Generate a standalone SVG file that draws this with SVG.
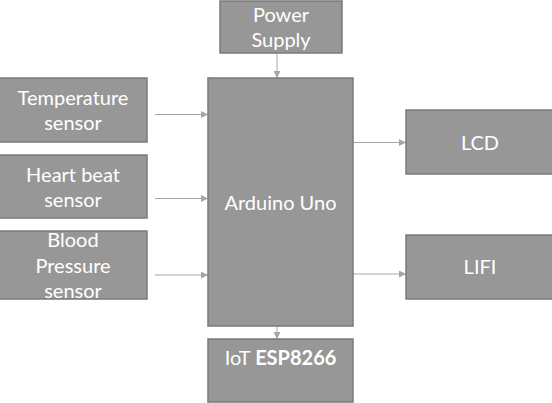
<svg xmlns="http://www.w3.org/2000/svg" width="552" height="403" viewBox="0 0 552 403">
<defs>
<style>
.box{fill:#979797;stroke:#7a7a7a;stroke-width:1.5}
.t{font-family:Lato,"Open Sans","Liberation Sans",sans-serif;font-size:20px;fill:#ffffff;text-anchor:middle}
.b{font-weight:bold}
.c{stroke:#a6a6a6;stroke-width:1;fill:none;marker-end:url(#ah)}
</style>
<marker id="ah" viewBox="0 0 10 10" refX="10" refY="5" markerWidth="7" markerHeight="7" markerUnits="userSpaceOnUse" orient="auto">
<path d="M0,0 L10,5 L0,10 z" fill="#a6a6a6"/>
</marker>
</defs>
<rect width="552" height="403" fill="#ffffff"/>
<g id="connectors">
<line class="c" x1="277" y1="53" x2="277" y2="78"/>
<line class="c" x1="155" y1="114.5" x2="208" y2="114.5"/>
<line class="c" x1="155" y1="198.5" x2="208" y2="198.5"/>
<line class="c" x1="155" y1="275" x2="208" y2="275"/>
<line class="c" x1="353" y1="142.5" x2="406" y2="142.5"/>
<line class="c" x1="353" y1="274" x2="406" y2="274"/>
<line class="c" x1="277" y1="326" x2="277" y2="339"/>
</g>
<g id="power">
<rect class="box" x="220" y="1" width="122" height="52"/>
<text class="t" x="281" y="22">Power</text>
<text class="t" x="281" y="47">Supply</text>
</g>
<g id="arduino">
<rect class="box" x="208" y="78" width="145" height="248"/>
<text class="t" x="280.5" y="210">Arduino Uno</text>
</g>
<g id="temperature">
<rect class="box" x="-1" y="78" width="148" height="64"/>
<text class="t" x="73" y="105">Temperature</text>
<text class="t" x="73" y="130">sensor</text>
</g>
<g id="heartbeat">
<rect class="box" x="-1" y="155" width="148" height="63"/>
<text class="t" x="73" y="182">Heart beat</text>
<text class="t" x="73" y="207">sensor</text>
</g>
<g id="bloodpressure">
<rect class="box" x="-1" y="231" width="148" height="68"/>
<text class="t" x="73" y="247">Blood</text>
<text class="t" x="73" y="272.5">Pressure</text>
<text class="t" x="73" y="298">sensor</text>
</g>
<g id="iot">
<rect class="box" x="208" y="339" width="145" height="63"/>
<text class="t" x="280.5" y="365">IoT <tspan class="b">ESP8266</tspan></text>
</g>
<g id="lcd">
<rect class="box" x="406" y="110" width="147" height="64"/>
<text class="t" x="480" y="150">LCD</text>
</g>
<g id="lifi">
<rect class="box" x="406" y="235" width="147" height="64"/>
<text class="t" x="480" y="274">LIFI</text>
</g>
</svg>
